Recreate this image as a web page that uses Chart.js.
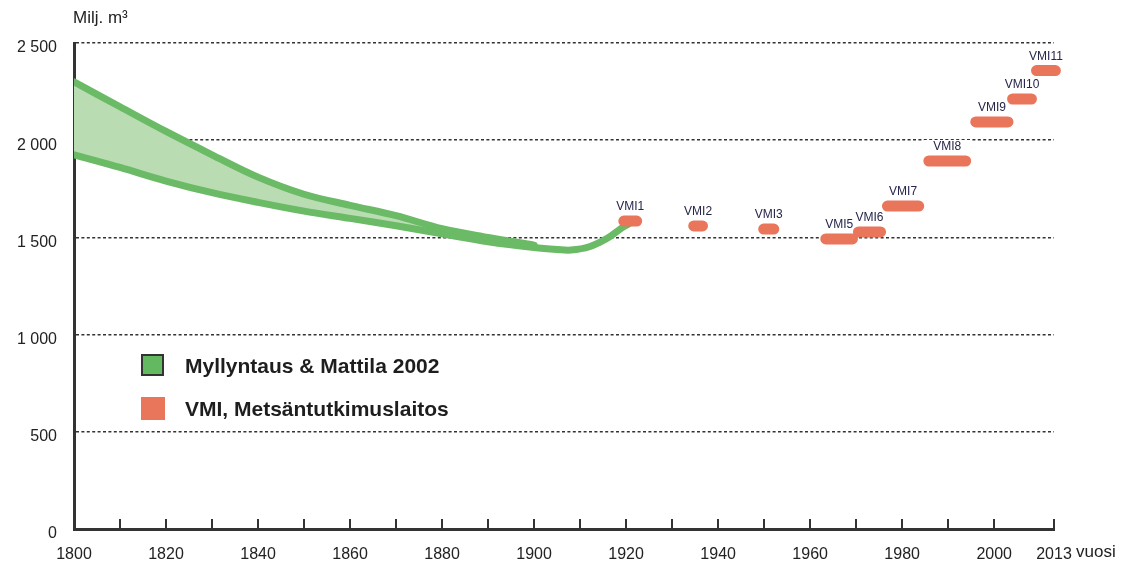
<!DOCTYPE html>
<html><head><meta charset="utf-8">
<script src="https://cdn.jsdelivr.net/npm/chart.js@4"></script>
<style>html,body{margin:0;padding:0;background:#fff}canvas{display:block}</style>
</head><body>
<canvas id="c" width="1124" height="568" style="width:1124px;height:568px"></canvas>
<script>
// ---- data ----
const upperYears = [1800,1810,1820,1830,1840,1850,1860,1870,1880,1890,1900];
const upperValues = [2300,2172,2045,1925,1810,1722,1665,1612,1545,1500,1460];
const lowerYears = [1800,1810,1820,1830,1840,1850,1860,1870,1880,1890,1900,1905,1908,1912,1916,1919,1921];
const lowerValues = [1925,1860,1790,1730,1680,1635,1598,1560,1518,1478,1448,1438,1435,1452,1497,1548,1575];

const vmiLabels = ['VMI1','VMI2','VMI3','VMI5','VMI6','VMI7','VMI8','VMI9','VMI10','VMI11'];
const vmiStart  = [1919.5,1934.7,1949.9,1963.4,1970.5,1976.8,1985.8,1996.0,2004.0,2009.2];
const vmiEnd    = [1922.3,1936.6,1952.1,1969.2,1975.3,1983.6,1993.8,2003.0,2008.1,2013.3];
const vmiValues = [1584,1559,1543,1492,1528,1661,1893,2094,2212,2358];

const seriesNames = ['Myllyntaus & Mattila 2002','VMI, Metsäntutkimuslaitos'];
const yTickValues = [0,500,1000,1500,2000,2500];
const yTickLabels = ['0','500','1 000','1 500','2 000','2 500'];
const xLabelValues = [1800,1820,1840,1860,1880,1900,1920,1940,1960,1980,2000,2013];
const xLabelTexts = ['1800','1820','1840','1860','1880','1900','1920','1940','1960','1980','2000','2013'];
const xTickMarks = [1810,1820,1830,1840,1850,1860,1870,1880,1890,1900,1910,1920,1930,1940,1950,1960,1970,1980,1990,2000,2013];
const yAxisTitle = 'Milj. m³';
const xAxisTitle = 'vuosi';

// ---- styles ----
const GREEN = '#6aba66', GREEN_FILL = '#b9dcb3', ORANGE = '#e9755a', INK = '#222';
const FONT = "'Liberation Sans', Arial, sans-serif";

const vmiData = [];
vmiLabels.forEach((l,i)=>{
  vmiData.push({x:vmiStart[i], y:vmiValues[i]});
  vmiData.push({x:vmiEnd[i], y:vmiValues[i]});
  vmiData.push({x:vmiEnd[i]+0.05, y:null});
});

const extras = {
  id:'extras',
  beforeDatasetsDraw(chart){
    const {ctx, scales:{x,y}} = chart;
    ctx.save();
    ctx.fillStyle = '#fff';
    vmiLabels.forEach((l,i)=>{
      const x1 = x.getPixelForValue(vmiStart[i]) - 5, x2 = x.getPixelForValue(vmiEnd[i]) + 5;
      const py = y.getPixelForValue(vmiValues[i]);
      ctx.fillRect(x1, py-21, x2-x1, 14);
    });
    ctx.restore();
  },
  afterDatasetsDraw(chart){
    const {ctx, scales:{x,y}, chartArea} = chart;
    ctx.save();
    ctx.strokeStyle = '#333'; ctx.lineWidth = 2;
    xTickMarks.forEach(v=>{
      const px = Math.round(x.getPixelForValue(v));
      ctx.beginPath(); ctx.moveTo(px, chartArea.bottom); ctx.lineTo(px, chartArea.bottom-10); ctx.stroke();
    });
    ctx.fillStyle = '#25254a';
    ctx.font = '12px ' + FONT;
    ctx.textAlign = 'center'; ctx.textBaseline = 'middle';
    vmiLabels.forEach((l,i)=>{
      const px = x.getPixelForValue((vmiStart[i]+vmiEnd[i])/2);
      const py = y.getPixelForValue(vmiValues[i]);
      ctx.fillText(l, px, py-14);
    });
    const lx = 141, ly = [365, 408];
    ctx.fillStyle = '#63b95f'; ctx.fillRect(lx, ly[0]-11, 23, 22);
    ctx.strokeStyle = '#333'; ctx.lineWidth = 2; ctx.strokeRect(lx+1, ly[0]-10, 21, 20);
    ctx.fillStyle = ORANGE; ctx.fillRect(lx, ly[1]-11, 24, 23);
    ctx.fillStyle = '#1e1e1e'; ctx.font = 'bold 21px ' + FONT;
    ctx.textAlign = 'left';
    ctx.fillText(seriesNames[0], 185, ly[0]+2);
    ctx.fillText(seriesNames[1], 185, ly[1]+2);
    ctx.fillStyle = INK; ctx.font = '17px ' + FONT;
    ctx.fillText(yAxisTitle, 73, 18);
    ctx.fillText(xAxisTitle, 1076, 552);
    ctx.restore();
  }
};

new Chart(document.getElementById('c'), {
  type:'line',
  data:{
    datasets:[
      {label:seriesNames[1], data:vmiData, borderColor:ORANGE, borderWidth:11, borderCapStyle:'round',
       pointRadius:0, spanGaps:false, fill:false, clip:false, tension:0},
      {label:seriesNames[0]+' ylä', data:upperYears.map((v,i)=>({x:v,y:upperValues[i]})),
       borderColor:GREEN, borderWidth:7, pointRadius:0, tension:0.35, fill:2, backgroundColor:GREEN_FILL,
       borderCapStyle:'round', borderJoinStyle:'round'},
      {label:seriesNames[0], data:lowerYears.map((v,i)=>({x:v,y:lowerValues[i]})),
       borderColor:GREEN, borderWidth:7, pointRadius:0, tension:0.35, fill:false,
       borderCapStyle:'round', borderJoinStyle:'round'}
    ]
  },
  options:{
    responsive:false, maintainAspectRatio:false, animation:false, devicePixelRatio:1,
    layout:{padding:{left:0,right:70,top:43,bottom:0}},
    plugins:{legend:{display:false}, tooltip:{enabled:false}, filler:{drawTime:'beforeDatasetsDraw'}},
    scales:{
      x:{type:'linear', min:1800, max:2013,
        afterFit(s){ s.height = 39; },
        afterBuildTicks(s){ s.ticks = xLabelValues.map(v=>({value:v})); },
        grid:{display:false, drawTicks:false},
        border:{display:true, color:'#333', width:3},
        ticks:{autoSkip:false, maxRotation:0, padding:16, color:INK, font:{family:FONT, size:16},
          callback:(v)=>{ const i = xLabelValues.indexOf(v); return i>=0 ? xLabelTexts[i] : ''; }}
      },
      y:{type:'linear', min:0, max:2500,
        afterFit(s){ s.width = 74; },
        afterBuildTicks(s){ s.ticks = yTickValues.map(v=>({value:v})); },
        grid:{display:true, drawTicks:false, color:'#333', lineWidth:1.6},
        border:{display:true, color:'#333', width:3, dash:[3,2.4]},
        ticks:{padding:17, labelOffset:5, color:INK, font:{family:FONT, size:16},
          callback:(v)=>{ const i = yTickValues.indexOf(v); return i>=0 ? yTickLabels[i] : ''; }}
      }
    }
  },
  plugins:[extras]
});
</script>
</body></html>
